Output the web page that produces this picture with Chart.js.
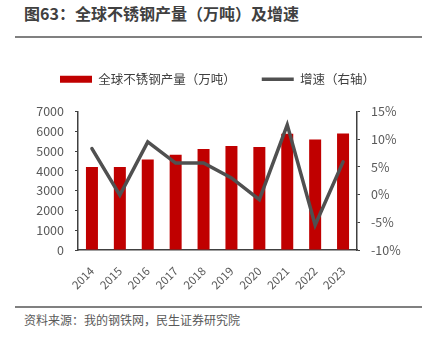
<!DOCTYPE html>
<html>
<head>
<meta charset="utf-8">
<script src="https://cdn.jsdelivr.net/npm/chart.js@4"></script>
<style>
  body { margin: 0; width: 422px; height: 338px; background: #fff; position: relative; overflow: hidden; font-family: "Noto Sans CJK SC", sans-serif; }
  #title { position: absolute; left: 24px; top: 2px; font-size: 16px; font-weight: bold; color: #404040; line-height: 22px; }
  .rule { position: absolute; left: 15px; width: 407px; height: 2px; background: #808080; }
  #box { position: absolute; left: 0; top: 40px; width: 422px; height: 262px; }
  #src { position: absolute; left: 24px; top: 311px; font-size: 12px; color: #595959; line-height: 18px; }
</style>
</head>
<body>
<div id="title">图63：全球不锈钢产量（万吨）及增速</div>
<div class="rule" style="top:36px"></div>
<div id="box"><canvas id="c"></canvas></div>
<div class="rule" style="top:306px"></div>
<div id="src">资料来源：我的钢铁网，民生证券研究院</div>
<script>
// 年份与数据
const years = ['2014', '2015', '2016', '2017', '2018', '2019', '2020', '2021', '2022', '2023'];
const output = [4200, 4190, 4580, 4820, 5110, 5260, 5210, 5870, 5580, 5890];
const growth = [8.3, -0.1, 9.5, 5.7, 5.7, 3.0, -0.9, 12.6, -5.5, 5.9];

const font = { family: '"Noto Sans CJK SC", sans-serif', size: 12.5 };
const axisColor = '#404040';

new Chart(document.getElementById('c'), {
  data: {
    labels: years,
    datasets: [{
      type: 'line',
      label: '增速（右轴）',
      data: growth,
      yAxisID: 'y1',
      borderColor: '#505050',
      backgroundColor: '#505050',
      borderWidth: 3.5,
      borderCapStyle: 'round',
      pointRadius: 0,
      pointStyle: 'line',
      tension: 0,
      order: 0
    }, {
      type: 'bar',
      label: '全球不锈钢产量（万吨）',
      data: output,
      yAxisID: 'y',
      backgroundColor: '#C00000',
      barPercentage: 0.43,
      categoryPercentage: 1,
      pointStyle: 'rect',
      order: 1
    }]
  },
  options: {
    responsive: true,
    maintainAspectRatio: false,
    animation: false,
    layout: { padding: { top: 7, left: 13, right: 0, bottom: 0 } },
    plugins: {
      legend: {
        reverse: true,
        labels: {
          usePointStyle: true,
          pointStyleWidth: 32,
          boxHeight: 7,
          padding: 26,
          color: '#404040',
          font: font
        }
      },
      // 空白占位，拉开图例与绘图区的距离
      subtitle: { display: true, text: '', weight: 500, font: { size: 10, lineHeight: 1 }, padding: 3 },
      tooltip: { enabled: false }
    },
    scales: {
      x: {
        grid: { display: false },
        border: { display: true, color: axisColor, width: 1.5 },
        ticks: { color: '#595959', font: { family: font.family, size: 11.5 }, maxRotation: 45, minRotation: 45, padding: 6 },
        afterFit: s => { s.height = 52; }
      },
      y: {
        position: 'left',
        min: 0, max: 7000,
        grid: { drawOnChartArea: false, drawTicks: true, tickLength: 3, color: axisColor },
        border: { display: true, color: axisColor, width: 1.5 },
        ticks: { stepSize: 1000, color: '#595959', font: font, padding: 11, callback: v => String(v) },
        afterFit: s => { s.width = 65; }
      },
      y1: {
        position: 'right',
        min: -10, max: 15,
        grid: { drawOnChartArea: false, drawTicks: true, tickLength: 3, color: axisColor },
        border: { display: true, color: axisColor, width: 1.5 },
        ticks: { stepSize: 5, color: '#595959', font: font, padding: 11, callback: v => v + '%' },
        afterFit: s => { s.width = 65; }
      }
    }
  }
});
</script>
</body>
</html>
